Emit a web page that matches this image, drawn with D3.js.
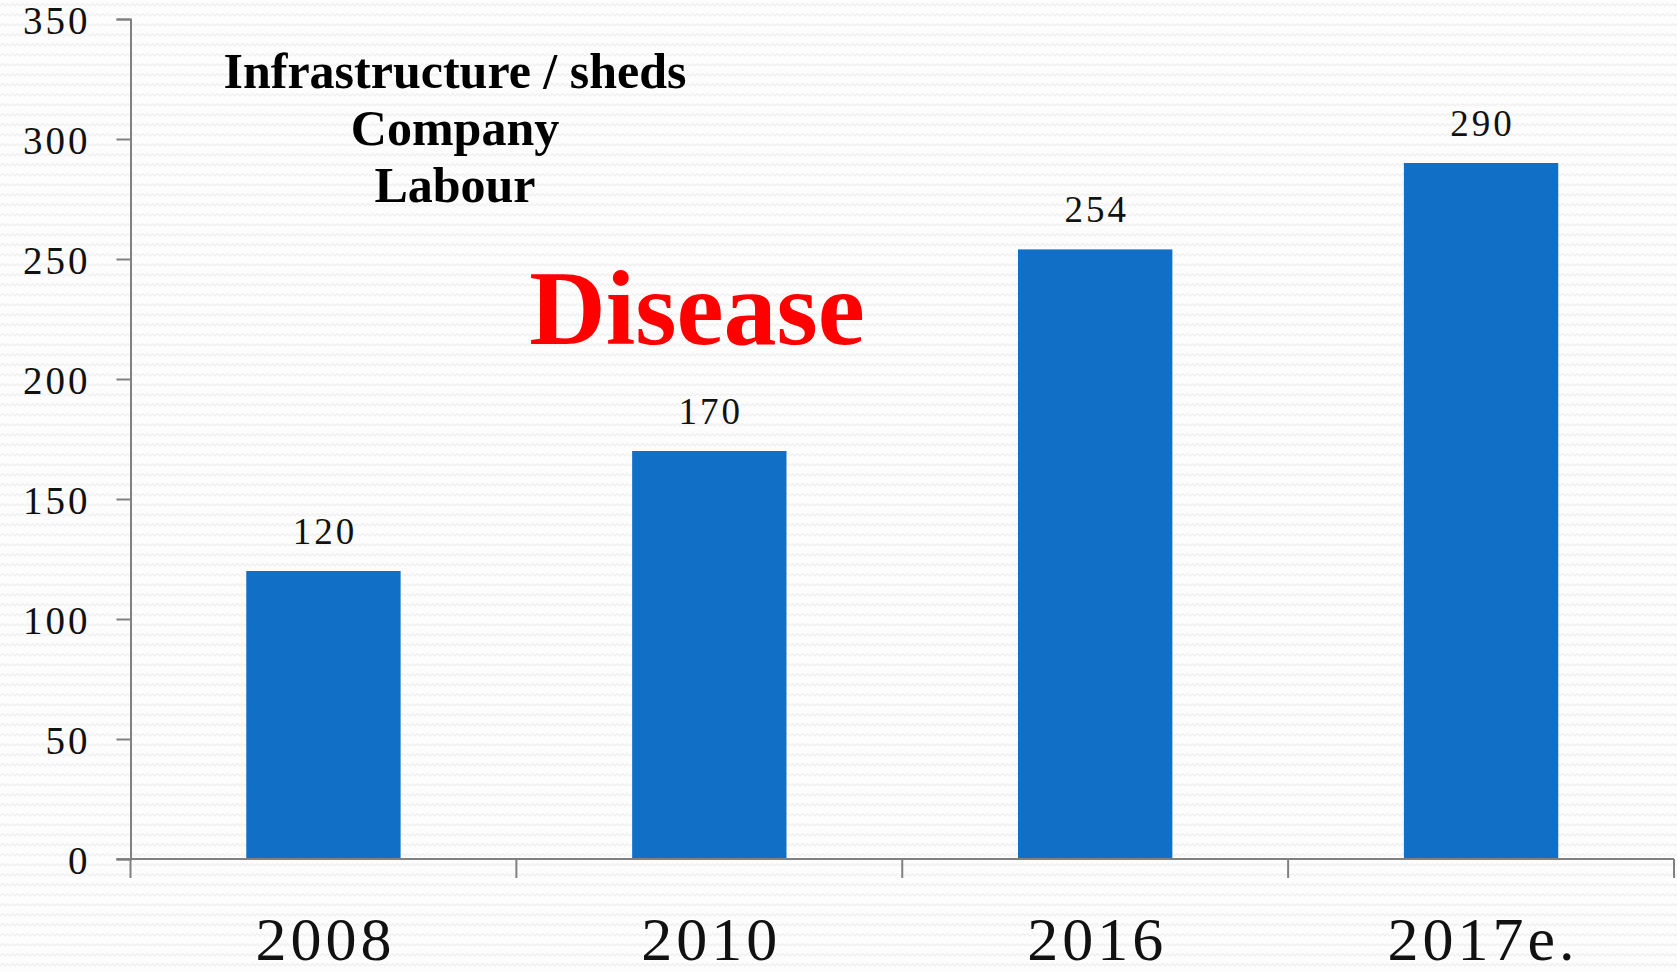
<!DOCTYPE html>
<html>
<head>
<meta charset="utf-8">
<script src="https://cdn.jsdelivr.net/npm/d3@7"></script>
<style>
  html, body { margin: 0; padding: 0; background: #fbfbfb; }
  svg { display: block; }
</style>
</head>
<body>
<div id="chart"></div>
<script>
// data
const years = ['2008', '2010', '2016', '2017e.'];
const counts = [120, 170, 254, 290];
const yTicks = [0, 50, 100, 150, 200, 250, 300, 350];
const noteLines = ['Infrastructure / sheds', 'Company', 'Labour'];
const highlight = 'Disease';

const outerWidth = 1677, outerHeight = 972;
const margin = { top: 19, left: 130.5, right: 3, bottom: 113 };
const width = outerWidth - margin.left - margin.right;
const height = outerHeight - margin.top - margin.bottom;

const serif = '"Liberation Serif", "DejaVu Serif", serif';

const svg = d3.select('#chart').append('svg')
    .attr('width', outerWidth)
    .attr('height', outerHeight);

// faint wavy backdrop
const defs = svg.append('defs');
const pat = defs.append('pattern')
    .attr('id', 'wave')
    .attr('width', 10).attr('height', 10)
    .attr('patternUnits', 'userSpaceOnUse');
pat.append('rect').attr('width', 10).attr('height', 10).attr('fill', '#fdfdfd');
pat.append('path')
    .attr('d', 'M0 6 L2.5 3.5 L5 6 L7.5 3.5 L10 6')
    .attr('fill', 'none')
    .attr('stroke', '#efefef')
    .attr('stroke-width', 1.2);

svg.append('rect')
    .attr('width', outerWidth).attr('height', outerHeight)
    .attr('fill', 'url(#wave)');

const g = svg.append('g')
    .attr('transform', `translate(${margin.left}, ${margin.top})`);

const x = d3.scaleBand()
    .domain(years)
    .range([0, width])
    .paddingInner(0.6)
    .paddingOuter(0.3);

// band edges for the category ticks
const xEdge = d3.scaleLinear().domain([0, years.length]).range([0, width]);

const y = d3.scaleLinear()
    .domain([0, 350])
    .range([height, 0]);

// bars
g.selectAll('rect.bar')
    .data(counts)
    .enter().append('rect')
    .attr('class', 'bar')
    .attr('x', (d, i) => x(years[i]))
    .attr('y', d => y(d))
    .attr('width', x.bandwidth())
    .attr('height', d => height - y(d))
    .attr('fill', '#1170c6');

// value labels
g.selectAll('text.val')
    .data(counts)
    .enter().append('text')
    .attr('class', 'val')
    .attr('x', (d, i) => x(years[i]) + x.bandwidth() / 2 + 1.5)
    .attr('y', d => y(d) - 27)
    .attr('text-anchor', 'middle')
    .style('font-family', serif)
    .style('font-size', '37px')
    .style('letter-spacing', '3px')
    .attr('fill', '#111')
    .text(d => d);

// y axis
const yAxis = d3.axisLeft(y)
    .tickValues(yTicks)
    .tickSize(14)
    .tickPadding(26);

const gy = g.append('g').call(yAxis);
gy.select('.domain').attr('stroke', '#808080').attr('stroke-width', 2);
gy.selectAll('.tick line').attr('stroke', '#808080').attr('stroke-width', 2);
gy.selectAll('.tick text')
    .style('font-family', serif)
    .style('font-size', '39px')
    .style('letter-spacing', '3px')
    .attr('fill', '#111')
    .attr('dy', '0.36em');

// x axis line + category ticks
const gx = g.append('g').attr('transform', `translate(0, ${height})`);
gx.append('line')
    .attr('x1', -14).attr('x2', width)
    .attr('stroke', '#808080').attr('stroke-width', 2);
gx.selectAll('line.tk')
    .data(d3.range(years.length + 1))
    .enter().append('line')
    .attr('class', 'tk')
    .attr('x1', d => xEdge(d)).attr('x2', d => xEdge(d))
    .attr('y1', 0).attr('y2', 19)
    .attr('stroke', '#808080').attr('stroke-width', 2);
gx.selectAll('text')
    .data(years)
    .enter().append('text')
    .attr('x', d => x(d) + x.bandwidth() / 2 + 2)
    .attr('y', 101)
    .attr('text-anchor', 'middle')
    .style('font-family', serif)
    .style('font-size', '62px')
    .style('letter-spacing', '4px')
    .attr('fill', '#111')
    .text(d => d);

// notes in the plot
svg.append('g').selectAll('text')
    .data(noteLines)
    .enter().append('text')
    .attr('x', 455)
    .attr('y', (d, i) => 88 + i * 57)
    .attr('text-anchor', 'middle')
    .style('font-family', serif)
    .style('font-weight', 'bold')
    .style('font-size', '50px')
    .attr('fill', '#000')
    .text(d => d);

svg.append('text')
    .attr('x', 697)
    .attr('y', 344)
    .attr('text-anchor', 'middle')
    .style('font-family', serif)
    .style('font-weight', 'bold')
    .style('font-size', '106px')
    .attr('fill', '#ff0000')
    .text(highlight);
</script>
</body>
</html>
